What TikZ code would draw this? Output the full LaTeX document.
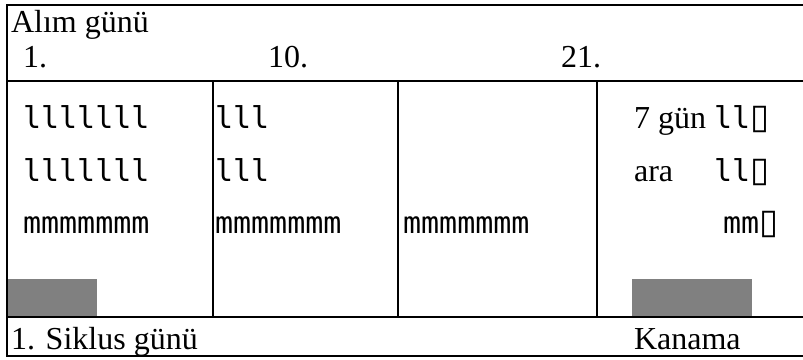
\documentclass[tikz,border=0pt]{standalone}
\usepackage{fontspec}
\setmainfont{Liberation Serif}
\newfontfamily\symfont{DejaVu Sans Mono}
\newfontfamily\boxfont{DejaVu Sans}
\definecolor{kanamagray}{RGB}{128,128,128}
\tikzset{lbl/.style={anchor=base west, inner sep=0pt, font=\fontsize{24}{28}\selectfont},
  sym/.style={anchor=base west, inner sep=0pt, font=\symfont\fontsize{22.5}{26}\selectfont}}
\newcommand{\tofu}{{\boxfont\fontsize{26}{26}\selectfont\char"25AF}}
\begin{document}
\begin{tikzpicture}[x=0.75pt, y=-0.75pt, line width=1.6pt]
\useasboundingbox (0,0) rectangle (803,360);
% grey bars
\fill[kanamagray](7,279)rectangle(97,317);
\fill[kanamagray](632,279)rectangle(752,317);
% frame
\draw(803,5)--(7,5)--(7,356)--(803,356);
\draw(7,81)--(803,81);
\draw(7,317)--(803,317);
\foreach \x in {213,398,597} \draw(\x,81)--(\x,317);
% header
\node[lbl](alim) at (10,33){Alım günü};
\node[lbl](d1) at (22,68){1.};
\node[lbl](d10) at (267,68){10.};
\node[lbl](d21) at (560,68){21.};
% columns
\node[sym](a1) at (22,128){lllllll};
\node[sym](a2) at (22,181){lllllll};
\node[sym](a3) at (22,233){mmmmmmm};
\node[sym](b1) at (214,128){lll};
\node[sym](b2) at (214,181){lll};
\node[sym](b3) at (214,233){mmmmmmm};
\node[sym](c3) at (402,233){mmmmmmm};
\node[lbl](ara1) at (633,128){7 gün};
\node[lbl](ara2) at (633,181){ara};
\node[sym](e1) at (713,128){ll\tofu};
\node[sym](e2) at (713,181){ll\tofu};
\node[sym](e3) at (722,233){mm\tofu};
% footer
\node[lbl](siklus) at (10,349){1. Siklus günü};
\node[lbl](kanama) at (633,349){Kanama};
\end{tikzpicture}
\end{document}
